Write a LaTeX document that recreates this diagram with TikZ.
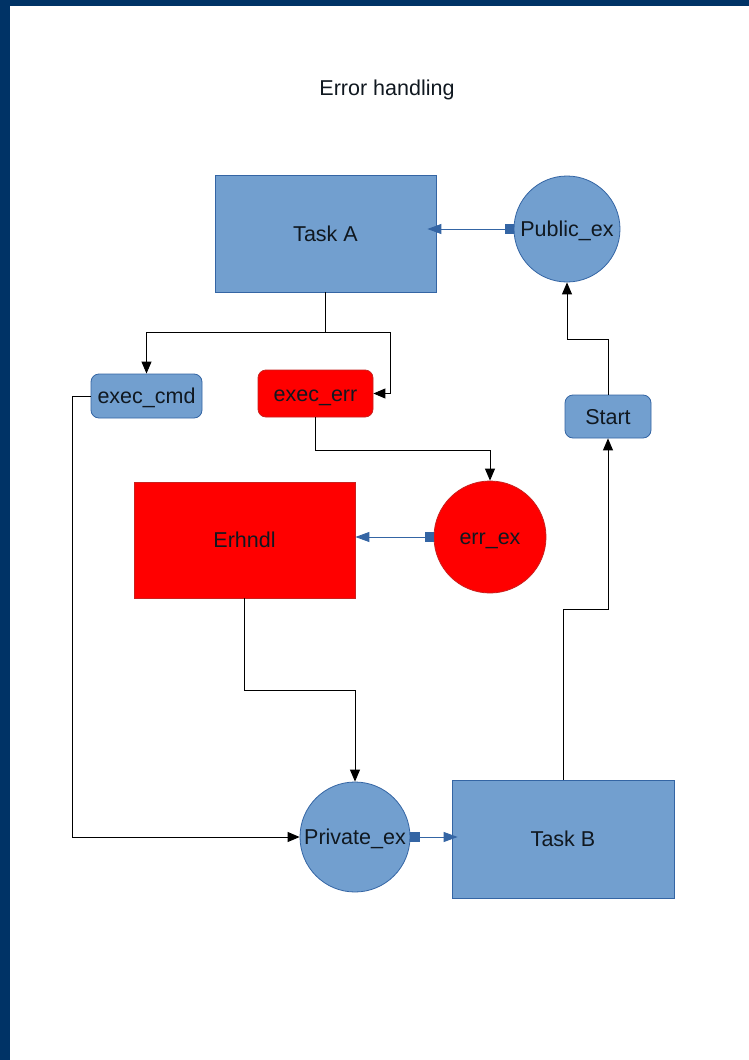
\documentclass[tikz,border=0pt]{standalone}
\usepackage{fontspec}
\setmainfont{Liberation Sans}
\usetikzlibrary{arrows.meta}
\definecolor{bfill}{HTML}{729FCF}
\definecolor{bdraw}{HTML}{3465A4}
\definecolor{rfill}{HTML}{FF0000}
\definecolor{rdraw}{HTML}{C9211E}
\definecolor{band}{HTML}{003366}
\definecolor{txt}{HTML}{101820}
\tikzset{
  base/.style={font=\fontsize{21.5}{25}\selectfont, text=txt, line width=0.8pt, text height=15.4pt, text depth=0.4pt},
  bluebox/.style={base, rectangle, fill=bfill, draw=bdraw},
  redbox/.style={base, rectangle, fill=rfill, draw=rdraw},
  bluecirc/.style={base, circle, fill=bfill, draw=bdraw, inner sep=0pt},
  redcirc/.style={base, circle, fill=rfill, draw=rdraw, inner sep=0pt},
  rbox/.style={rounded corners=8pt},
  conn/.style={draw=black, line width=0.9pt, -{Triangle[length=12pt,width=10pt]}},
  bconn/.style={draw=bdraw, line width=0.9pt, {Square[length=9pt,width=10pt]}-{Triangle[length=14pt,width=10pt]}},
}
\begin{document}
\begin{tikzpicture}[x=1pt,y=-1pt]
\useasboundingbox (0,0) rectangle (749,1060);
\fill[white] (0,0) rectangle (749,1060);
\fill[band] (0,0) rectangle (749,6);
\fill[band] (0,0) rectangle (10,1060);

\node[base] (title) at (387,88) {Error handling};

\node[bluebox, minimum width=221pt, minimum height=117pt] (taskA) at (325.5,233.5) {Task A};
\node[bluecirc, minimum size=106pt] (pub) at (567,229) {Public\_ex};
\node[bluebox, rbox, minimum width=111pt, minimum height=44pt, inner sep=0pt] (execcmd) at (146.5,396) {exec\_cmd};
\node[redbox, rbox, minimum width=115pt, minimum height=47pt, inner sep=0pt] (execerr) at (315.5,393.5) {exec\_err};
\node[bluebox, rbox, minimum width=86pt, minimum height=43pt, inner sep=0pt] (start) at (608,416.5) {Start};
\node[redbox, minimum width=221pt, minimum height=116pt] (erhndl) at (244.5,540) {Erhndl};
\node[redcirc, minimum size=112pt] (errex) at (490,537) {err\_ex};
\node[bluecirc, minimum size=110pt] (priv) at (355,837) {Private\_ex};
\node[bluebox, minimum width=222pt, minimum height=118pt] (taskB) at (563,839) {Task B};

\draw[bconn] (pub.west) -- ([xshift=-9pt]taskA.east |- pub.west);
\draw[conn] (taskA.south) -- ++(0,40) -| (execcmd.north);
\draw[conn] (taskA.south) -- ++(0,40) -- ++(65,0) |- (execerr.east);
\draw[conn] (execerr.south) -- ++(0,33) -| (errex.north);
\draw[bconn] (errex.west) -- (erhndl.east |- errex.west);
\draw[conn] (erhndl.south) -- ++(0,92) -| (priv.north);
\draw[conn] (execcmd.west) -- ++(-18,0) |- (priv.west);
\draw[bconn] (priv.east) -- ([xshift=6pt]taskB.west |- priv.east);
\draw[conn] (taskB.north) -- ++(0,-170) -| (start.south);
\draw[conn] (start.north) -- ++(0,-55) -| (pub.south);
\end{tikzpicture}
\end{document}
